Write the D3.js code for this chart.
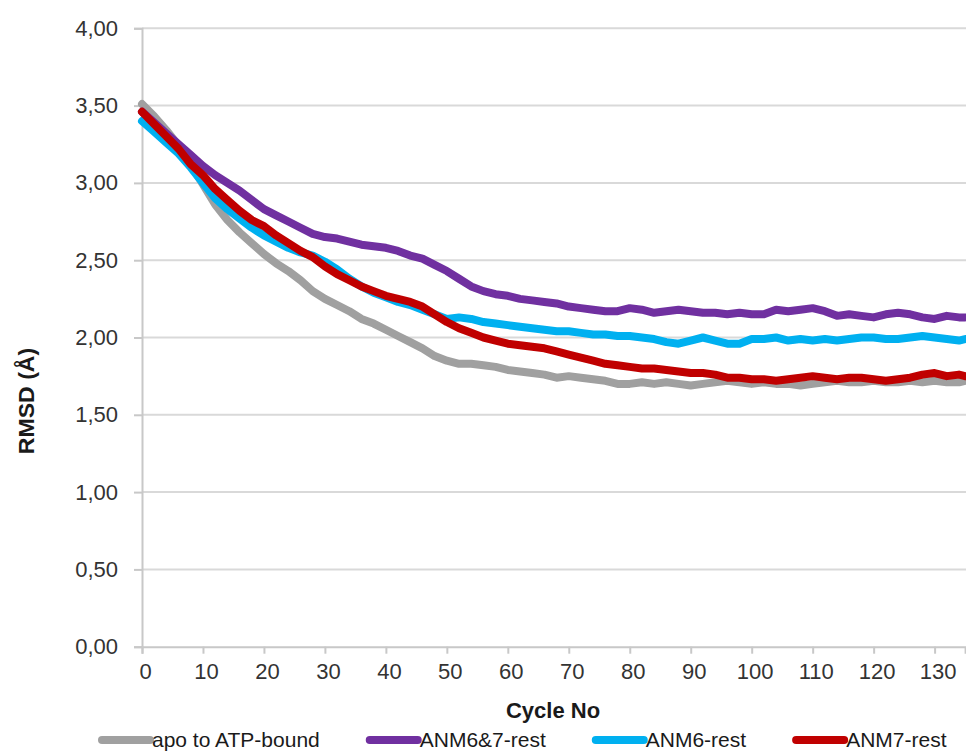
<!DOCTYPE html>
<html>
<head>
<meta charset="utf-8">
<script src="https://cdn.jsdelivr.net/npm/d3@7"></script>
<style>
  html, body { margin: 0; padding: 0; background: #ffffff; }
  svg { display: block; font-family: "Liberation Sans", Arial, sans-serif; }
</style>
</head>
<body>
<svg id="chart" width="966" height="753"></svg>
<script>
// ---- data ----
const cycles = [0,2,4,6,8,10,12,14,16,18,20,22,24,26,28,30,32,34,36,38,40,42,44,46,48,50,52,54,56,58,60,62,64,66,68,70,72,74,76,78,80,82,84,86,88,90,92,94,96,98,100,102,104,106,108,110,112,114,116,118,120,122,124,126,128,130,132,134,135];

const apoToATP = [3.51,3.43,3.34,3.24,3.12,2.99,2.86,2.76,2.68,2.61,2.54,2.48,2.43,2.37,2.30,2.25,2.21,2.17,2.12,2.09,2.05,2.01,1.97,1.93,1.88,1.85,1.83,1.83,1.82,1.81,1.79,1.78,1.77,1.76,1.74,1.75,1.74,1.73,1.72,1.70,1.70,1.71,1.70,1.71,1.70,1.69,1.70,1.71,1.72,1.71,1.70,1.71,1.70,1.70,1.69,1.70,1.71,1.72,1.71,1.71,1.72,1.71,1.71,1.72,1.71,1.72,1.71,1.71,1.72];

const anm67 = [3.46,3.39,3.32,3.25,3.18,3.11,3.05,3.00,2.95,2.89,2.83,2.79,2.75,2.71,2.67,2.65,2.64,2.62,2.60,2.59,2.58,2.56,2.53,2.51,2.47,2.43,2.38,2.33,2.30,2.28,2.27,2.25,2.24,2.23,2.22,2.20,2.19,2.18,2.17,2.17,2.19,2.18,2.16,2.17,2.18,2.17,2.16,2.16,2.15,2.16,2.15,2.15,2.18,2.17,2.18,2.19,2.17,2.14,2.15,2.14,2.13,2.15,2.16,2.15,2.13,2.12,2.14,2.13,2.13];

const anm6 = [3.40,3.33,3.26,3.19,3.10,3.00,2.90,2.83,2.77,2.71,2.66,2.62,2.58,2.55,2.53,2.49,2.44,2.38,2.33,2.29,2.26,2.23,2.21,2.18,2.15,2.12,2.13,2.12,2.10,2.09,2.08,2.07,2.06,2.05,2.04,2.04,2.03,2.02,2.02,2.01,2.01,2.00,1.99,1.97,1.96,1.98,2.00,1.98,1.96,1.96,1.99,1.99,2.00,1.98,1.99,1.98,1.99,1.98,1.99,2.00,2.00,1.99,1.99,2.00,2.01,2.00,1.99,1.98,1.99];

const anm7 = [3.46,3.38,3.30,3.22,3.12,3.05,2.96,2.89,2.82,2.76,2.72,2.66,2.61,2.56,2.52,2.46,2.41,2.37,2.33,2.30,2.27,2.25,2.23,2.20,2.15,2.10,2.06,2.03,2.00,1.98,1.96,1.95,1.94,1.93,1.91,1.89,1.87,1.85,1.83,1.82,1.81,1.80,1.80,1.79,1.78,1.77,1.77,1.76,1.74,1.74,1.73,1.73,1.72,1.73,1.74,1.75,1.74,1.73,1.74,1.74,1.73,1.72,1.73,1.74,1.76,1.77,1.75,1.76,1.75];

const seriesNames = ["apo to ATP-bound", "ANM6&7-rest", "ANM6-rest", "ANM7-rest"];
const seriesColors = ["#a0a0a0", "#7030a0", "#00b0f0", "#c00000"];
const yTicks = [0, 0.5, 1, 1.5, 2, 2.5, 3, 3.5, 4];
const xTicks = [0,10,20,30,40,50,60,70,80,90,100,110,120,130];
const xTitle = "Cycle No";
const yTitle = "RMSD (Å)";

// ---- layout ----
const svg = d3.select("#chart");
const plot = { left: 142, right: 966, top: 28.3, bottom: 646.7 };

const x = d3.scaleLinear().domain([0, 135]).range([plot.left, plot.left + 135 * (792.6 / 130)]);
const y = d3.scaleLinear().domain([0, 4]).range([plot.bottom, plot.top]);

const fmt = v => d3.format(".2f")(v).replace(".", ",");

// gridlines
svg.append("g")
  .selectAll("line")
  .data(yTicks.filter(d => d > 0))
  .join("line")
  .attr("x1", plot.left).attr("x2", plot.right)
  .attr("y1", d => y(d)).attr("y2", d => y(d))
  .attr("stroke", "#d9d9d9").attr("stroke-width", 2);

// y axis
const yAxis = svg.append("g")
  .attr("transform", `translate(${plot.left},0)`)
  .call(d3.axisLeft(y).tickValues(yTicks).tickFormat(fmt).tickSize(8).tickPadding(16));
yAxis.select(".domain").attr("stroke", "#c8c8c8").attr("stroke-width", 2);
yAxis.selectAll(".tick line").attr("stroke", "#c8c8c8").attr("stroke-width", 2);
yAxis.selectAll(".tick text")
  .attr("fill", "#333333")
  .style("font-size", "22px");

// x axis
const xAxis = svg.append("g")
  .attr("transform", `translate(0,${plot.bottom})`)
  .call(d3.axisBottom(x).tickValues(xTicks).tickFormat(d3.format("d")).tickSize(7).tickPadding(10));
xAxis.select(".domain").attr("stroke", "#c8c8c8").attr("stroke-width", 2);
xAxis.selectAll(".tick line").attr("stroke", "#c8c8c8").attr("stroke-width", 2);
xAxis.selectAll(".tick text")
  .attr("fill", "#333333")
  .style("font-size", "22px")
  .attr("x", 3);

// series lines
const series = [apoToATP, anm67, anm6, anm7];
const line = d3.line()
  .x((d, i) => x(cycles[i]))
  .y(d => y(d))
  .curve(d3.curveLinear);

svg.append("clipPath").attr("id", "plotclip")
  .append("rect")
  .attr("x", plot.left - 6).attr("y", 0)
  .attr("width", plot.right - plot.left + 6).attr("height", plot.bottom);

svg.append("g").attr("clip-path", "url(#plotclip)")
  .selectAll("path")
  .data(series)
  .join("path")
  .attr("d", d => line(d))
  .attr("fill", "none")
  .attr("stroke", (d, i) => seriesColors[i])
  .attr("stroke-width", 8)
  .attr("stroke-linejoin", "round")
  .attr("stroke-linecap", "round");

// axis titles
svg.append("text")
  .attr("x", 553).attr("y", 718)
  .attr("text-anchor", "middle")
  .attr("fill", "#1a1a1a")
  .style("font-size", "22px")
  .style("font-weight", "bold")
  .text(xTitle);

svg.append("text")
  .attr("transform", "translate(34,401) rotate(-90) scale(1.05,1)")
  .attr("text-anchor", "middle")
  .attr("fill", "#1a1a1a")
  .style("font-size", "22px")
  .style("font-weight", "bold")
  .text(yTitle);

// legend
const legend = svg.append("g").attr("transform", "translate(0,740)");
let lx = 98;
seriesNames.forEach((name, i) => {
  const g = legend.append("g").attr("transform", `translate(${lx},0)`);
  g.append("line")
    .attr("x1", 4).attr("x2", 52).attr("y1", 0).attr("y2", 0)
    .attr("stroke", seriesColors[i]).attr("stroke-width", 8)
    .attr("stroke-linecap", "round");
  const t = g.append("text")
    .attr("x", 54).attr("y", 0).attr("dy", "0.35em")
    .attr("fill", "#1a1a1a")
    .style("font-size", "21px")
    .text(name);
  lx += 54 + t.node().getComputedTextLength() + 46;
});
</script>
</body>
</html>
